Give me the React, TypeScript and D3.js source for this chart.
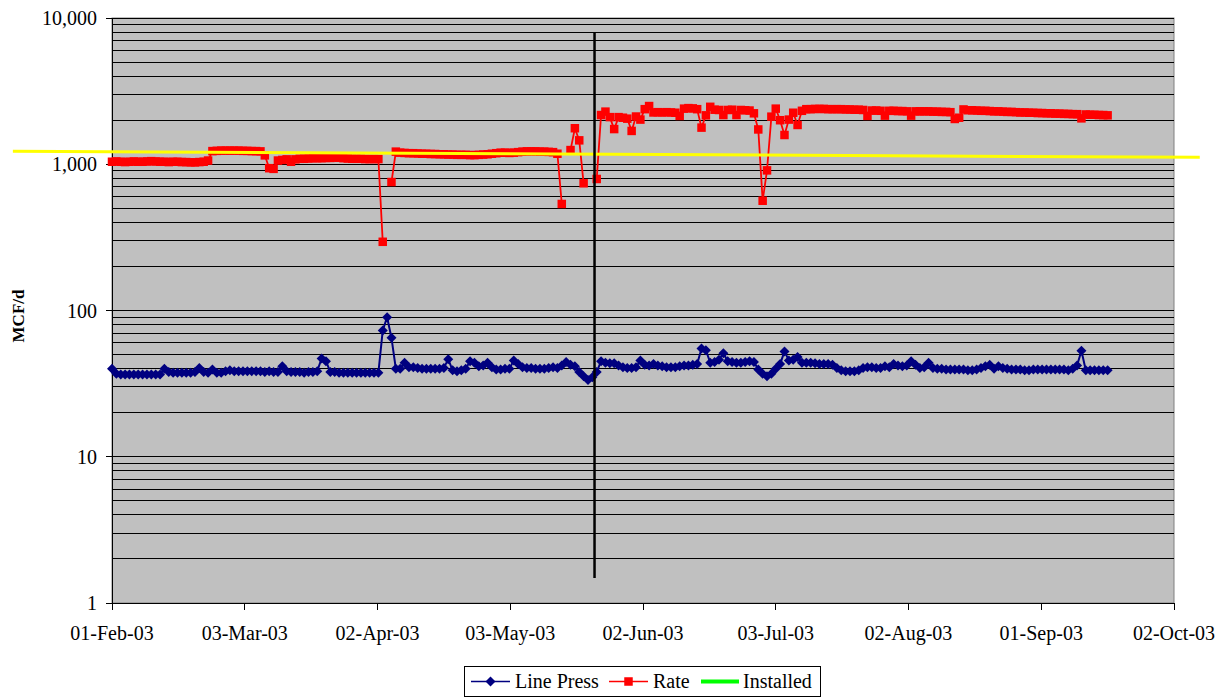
import React, { useEffect } from "react";
import * as d3 from "d3";

// ---- Data ----
// Daily readings starting 01-Feb-2003 (index = days since 01-Feb-2003)
const startDate = new Date(2003, 1, 1);

const xTickLabels = [
  "01-Feb-03", "03-Mar-03", "02-Apr-03", "03-May-03", "02-Jun-03",
  "03-Jul-03", "02-Aug-03", "01-Sep-03", "02-Oct-03",
];
const xTickStepDays = 30.4;

const yTickValues = [1, 10, 100, 1000, 10000];
const yTickLabels = ["1", "10", "100", "1,000", "10,000"];

const linePress: number[] = [
  40, 37, 36.5, 36.5, 36.5, 36.5, 36.5, 36.5, 36.5, 36.5,
  36.5, 36.5, 40, 38, 37.5, 37.5, 37.5, 37.5, 37.5, 38,
  40.5, 38, 37.5, 39.5, 37.5, 37.5, 38.5, 39, 38.5, 38.5,
  38.5, 38.5, 38.5, 38.5, 38.5, 38, 38.5, 38, 38, 41.5,
  38.5, 38, 38, 38, 37.5, 38, 38, 38.5, 47, 45,
  38, 38, 37.5, 37.5, 37.5, 37.5, 37.5, 37.5, 37.5, 37.5,
  37.5, 37.5, 73, 90, 65, 40, 40, 44, 41, 41,
  40.5, 40, 40, 40, 40, 40, 40.5, 46.5, 39, 38.5,
  39, 40, 45, 44, 41.5, 42, 44, 41, 39.5, 39.5,
  40, 40, 45.5, 43, 41, 40.5, 40.5, 40, 40, 40,
  40.5, 41, 40.5, 42, 44.5, 42.5, 41.5, 38, 35.5, 33.5,
  35, 38, 45, 44, 43.5, 43.5, 42, 41, 40.5, 40.5,
  41, 45.5, 42.5, 42, 43, 42, 41.5, 41, 41, 41,
  41.5, 42, 42, 42.5, 43, 55, 53.5, 44, 44.5, 46,
  51, 45, 44.5, 44, 44, 44.5, 45, 44.5, 39.5, 37,
  35.5, 37, 40, 43, 52.5, 45.5, 46, 48, 44, 44,
  44, 43.5, 43, 43, 43, 42.5, 40.5, 39, 38.5, 38.5,
  38.5, 39, 40.5, 41, 41, 40.5, 40.5, 41.5, 41, 43,
  42, 41.5, 42, 45, 42.5, 40.5, 41, 44, 40.5, 40,
  40, 39.5, 39.5, 39.5, 39.5, 39.5, 39, 39, 39.5, 40.5,
  41.5, 42.5, 40, 41.5, 40.5, 40, 39.5, 39.5, 39.5, 39,
  39, 39.5, 39.5, 39.5, 39.5, 39.5, 39.5, 39.5, 39.5, 39,
  40, 42, 53, 39, 39, 39, 39, 39, 39,
];

const rate: (number | null)[] = [
  1040, 1045, 1040, 1035, 1040, 1045, 1040, 1040, 1045, 1050,
  1045, 1040, 1040, 1035, 1040, 1040, 1035, 1035, 1030, 1030,
  1035, 1040, 1060,
  1230, 1235, 1240, 1240, 1240, 1240, 1240, 1235, 1235, 1230, 1230, 1225,
  1150, 940, 930, 1060, 1070, 1080, 1040, 1080,
  1090, 1090, 1095, 1100, 1100, 1100, 1105, 1105, 1110, 1110,
  1100, 1095, 1090, 1090, 1090, 1085, 1085, 1085, 1085,
  295, null, 756, 1220,
  1200, 1195, 1190, 1190, 1185, 1180, 1180, 1175, 1175, 1170,
  1170, 1165, 1165, 1160, 1160, 1160, 1155, 1155, 1160, 1165,
  1170, 1180, 1190, 1200, 1200, 1195, 1200, 1210, 1220, 1225,
  1225, 1225, 1220, 1220, 1215, 1210,
  1180, 535, null, 1250, 1763, 1457, 741, null, null, 793,
  2170, 2290, 2100, 1740, 2100, 2080, 2050, 1690, 2120, 2020,
  2380, 2500, 2260, 2270, 2260, 2270, 2260, 2250, 2140, 2400,
  2420, 2410, 2380, 1780, 2160, 2470, 2360, 2350, 2170, 2350,
  2360, 2170, 2350, 2340, 2330, 2230, 1730, 563, 908, 2115,
  2400, 2000, 1585, 2020, 2250, 1856, 2320,
  2380, 2380, 2390, 2390, 2390, 2380, 2380, 2380, 2380, 2370,
  2370, 2360, 2360, 2350,
  2140,
  2330, 2330, 2320, 2150, 2320, 2320, 2310, 2310, 2300, 2150,
  2300, 2300, 2300, 2300, 2290, 2290, 2280, 2280, 2270,
  2040, 2080, 2370,
  2340, 2340, 2330, 2320, 2320, 2310, 2300, 2300, 2290, 2280,
  2280, 2270, 2260, 2260, 2250, 2250, 2240, 2240, 2230, 2230,
  2220, 2220, 2210, 2210, 2200, 2200, 2060, 2190, 2180, 2180,
  2170, 2170, 2160,
];

const installed: number[] = [];

// Hand-drawn annotations (in data units: days since start, MCF/d)
const yellowLineDays = [-22.7, 249.1];
const yellowLineValues = [1229, 1115];
const markerLineDay = 110.5;
const markerLineValues = [7900, 1.48];

const legendItems = ["Line Press", "Rate", "Installed"];

// ---- Layout ----
const W = 1228;
const H = 698;
const plotLeft = 112;
const plotRight = 1174;
const plotTop = 18;
const plotBottom = 603;
const FONT = "'Liberation Serif', 'Times New Roman', serif";

export default function App() {
  useEffect(() => {
    document.body.style.margin = "0";
  }, []);

  const x = d3
    .scaleLinear()
    .domain([0, xTickStepDays * (xTickLabels.length - 1)])
    .range([plotLeft, plotRight]);
  const y = d3.scaleLog().domain([1, 10000]).range([plotBottom, plotTop]);

  const gridValues: number[] = [];
  for (let e = 0; e < 4; e++) {
    for (let m = 1; m <= 9; m++) gridValues.push(m * Math.pow(10, e));
  }
  gridValues.push(10000);

  const lpPts = linePress.map((v, i) => ({ d: i, v }));
  const ratePts = rate.map((v, i) => ({ d: i, v }));

  const lpLine = d3
    .line<{ d: number; v: number }>()
    .x((p) => x(p.d))
    .y((p) => y(p.v));
  const rateLine = d3
    .line<{ d: number; v: number | null }>()
    .defined((p) => p.v != null)
    .x((p) => x(p.d))
    .y((p) => y(p.v as number));

  const diamond = (cx: number, cy: number, r: number) =>
    `M${cx},${cy - r}L${cx + r},${cy}L${cx},${cy + r}L${cx - r},${cy}Z`;

  const navy = "#000080";
  const red = "#FF0000";

  const legendX = 464.5;
  const legendY = 666.5;
  const legendW = 356;
  const legendH = 30;
  const legendMidY = 681.5;
  const legendOffsets = [
    { lx: 471, tx: 515 },
    { lx: 609, tx: 653 },
    { lx: 701, tx: 743 },
  ];

  return (
    <svg
      width={W}
      height={H}
      style={{ display: "block", fontFamily: FONT }}
      fontFamily={FONT}
    >
      <rect x={0} y={0} width={W} height={H} fill="#FFFFFF" />
      <rect
        x={plotLeft}
        y={plotTop}
        width={plotRight - plotLeft}
        height={plotBottom - plotTop}
        fill="#C0C0C0"
        stroke="#808080"
        strokeWidth={1}
      />
      <g shapeRendering="crispEdges">
        {gridValues.map((g, i) => (
          <line
            key={i}
            x1={plotLeft}
            x2={plotRight}
            y1={y(g)}
            y2={y(g)}
            stroke="#000"
            strokeWidth={1}
          />
        ))}
      </g>
      <g shapeRendering="crispEdges">
        <line x1={plotLeft} x2={plotLeft} y1={plotTop} y2={plotBottom} stroke="#000" />
        <line x1={plotLeft} x2={plotRight} y1={plotBottom} y2={plotBottom} stroke="#000" />
        {yTickValues.map((t, i) => (
          <line key={i} x1={plotLeft - 6} x2={plotLeft} y1={y(t)} y2={y(t)} stroke="#000" />
        ))}
        {xTickLabels.map((_, i) => (
          <line
            key={i}
            x1={x(i * xTickStepDays)}
            x2={x(i * xTickStepDays)}
            y1={plotBottom}
            y2={plotBottom + 7}
            stroke="#000"
          />
        ))}
      </g>
      {yTickValues.map((t, i) => (
        <text key={i} x={97} y={y(t) + 7} textAnchor="end" fontSize={20} fill="#000">
          {yTickLabels[i]}
        </text>
      ))}
      {xTickLabels.map((lab, i) => (
        <text
          key={i}
          x={x(i * xTickStepDays)}
          y={640}
          textAnchor="middle"
          fontSize={20}
          fill="#000"
        >
          {lab}
        </text>
      ))}
      <text
        transform={`translate(24,316) rotate(-90)`}
        textAnchor="middle"
        fontSize={17}
        fontWeight="bold"
        fill="#000"
      >
        MCF/d
      </text>

      {/* Line Press series */}
      <path d={lpLine(lpPts) || ""} fill="none" stroke={navy} strokeWidth={2} />
      {lpPts.map((p, i) => (
        <path key={i} d={diamond(x(p.d), y(p.v), 5)} fill={navy} />
      ))}

      {/* Rate series */}
      <path d={rateLine(ratePts) || ""} fill="none" stroke={red} strokeWidth={1.8} />
      {ratePts
        .filter((p) => p.v != null)
        .map((p, i) => (
          <rect
            key={i}
            x={x(p.d) - 4.25}
            y={y(p.v as number) - 4.25}
            width={8.5}
            height={8.5}
            fill={red}
          />
        ))}

      {installed.length > 0 && (
        <path
          d={lpLine(installed.map((v, i) => ({ d: i, v }))) || ""}
          fill="none"
          stroke="#00FF00"
          strokeWidth={4}
        />
      )}

      {/* annotations */}
      <line
        x1={x(yellowLineDays[0])}
        x2={x(yellowLineDays[1])}
        y1={y(yellowLineValues[0])}
        y2={y(yellowLineValues[1])}
        stroke="#FFFF00"
        strokeWidth={3}
      />
      <line
        x1={x(markerLineDay)}
        x2={x(markerLineDay)}
        y1={y(markerLineValues[0])}
        y2={y(markerLineValues[1])}
        stroke="#000"
        strokeWidth={2.5}
      />

      {/* legend */}
      <rect
        x={legendX}
        y={legendY}
        width={legendW}
        height={legendH}
        fill="#FFFFFF"
        stroke="#000"
        strokeWidth={1}
      />
      {legendItems.map((name, i) => {
        const o = legendOffsets[i];
        const cx = o.lx + 19.5;
        return (
          <g key={name}>
            {i === 0 && (
              <>
                <line x1={o.lx} x2={o.lx + 39} y1={legendMidY} y2={legendMidY} stroke={navy} strokeWidth={1.5} />
                <path d={diamond(cx, legendMidY, 5)} fill={navy} />
              </>
            )}
            {i === 1 && (
              <>
                <line x1={o.lx} x2={o.lx + 39} y1={legendMidY} y2={legendMidY} stroke={red} strokeWidth={1.5} />
                <rect x={cx - 4.25} y={legendMidY - 4.25} width={8.5} height={8.5} fill={red} />
              </>
            )}
            {i === 2 && (
              <line x1={o.lx} x2={o.lx + 38} y1={legendMidY} y2={legendMidY} stroke="#00FF00" strokeWidth={4} />
            )}
            <text x={o.tx} y={688} fontSize={20} fill="#000">
              {name}
            </text>
          </g>
        );
      })}
    </svg>
  );
}

void startDate;
